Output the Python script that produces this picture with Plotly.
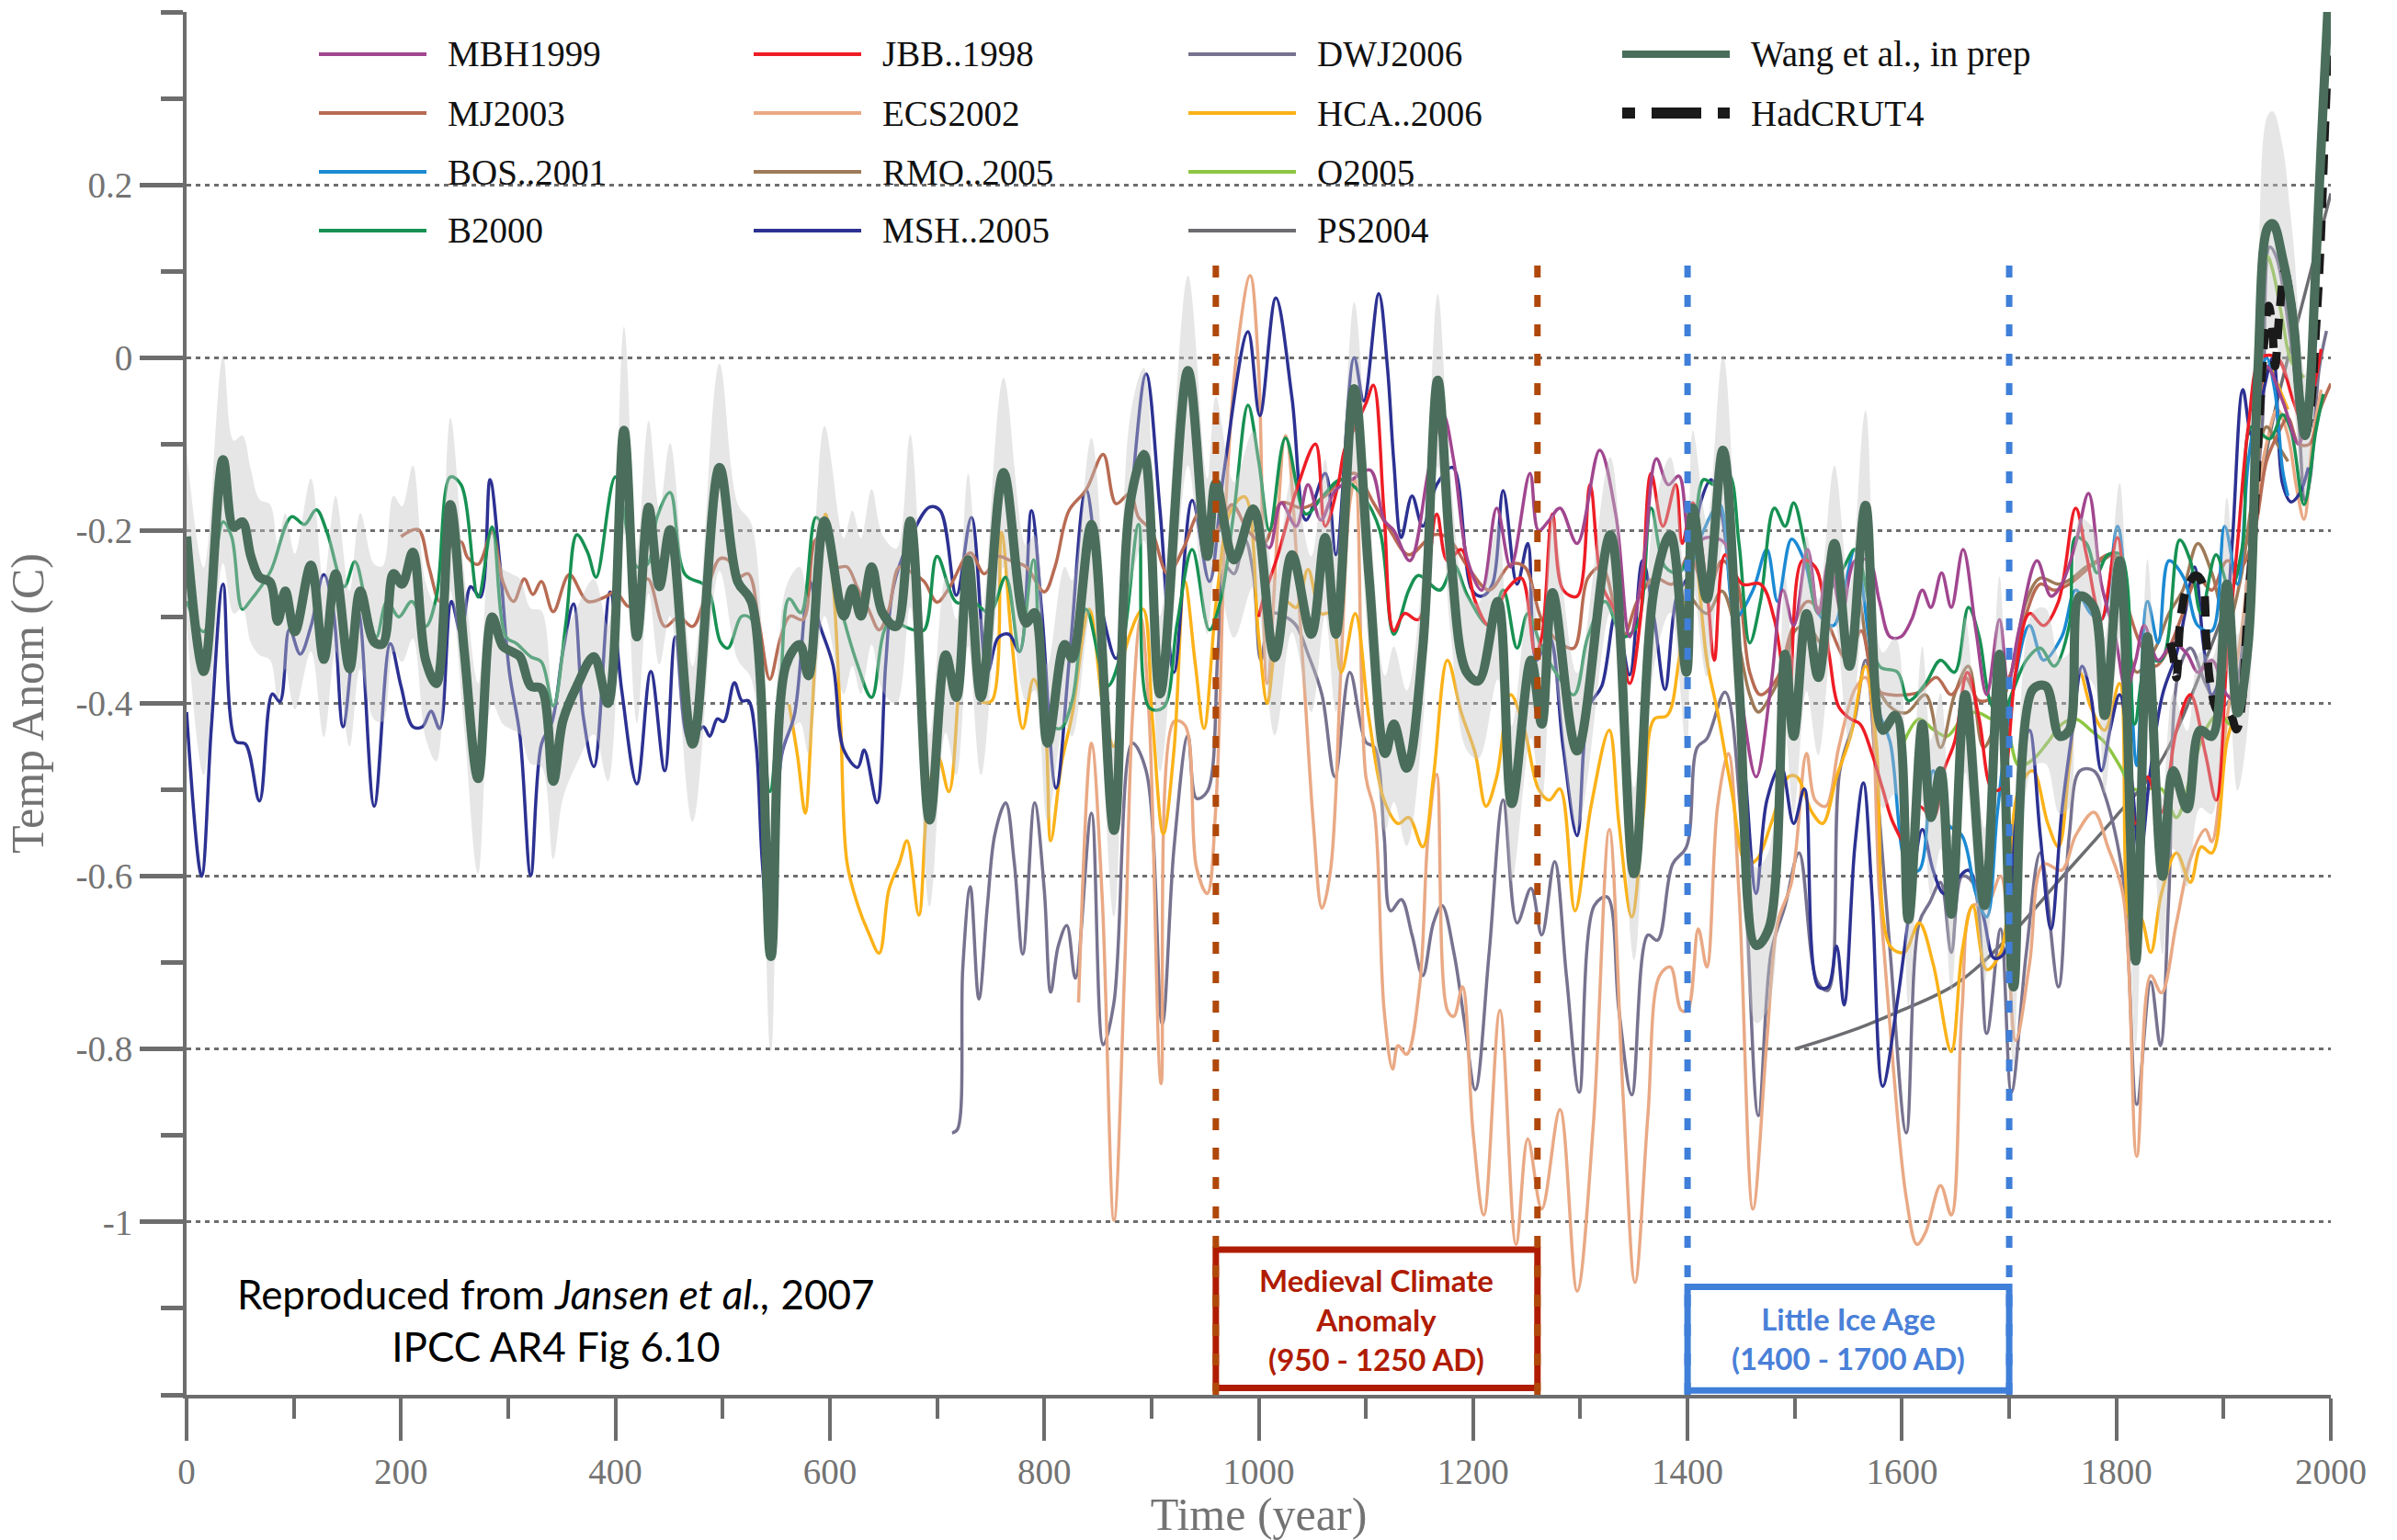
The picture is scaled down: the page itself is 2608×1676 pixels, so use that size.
import plotly.graph_objects as go

# ------------------------------------------------------------------
# Reconstructions of Northern Hemisphere temperature anomaly (C)
# ------------------------------------------------------------------
mbh_years = [1000, 1010, 1021, 1035, 1046, 1058, 1071, 1087, 1104, 1117, 1126, 1141, 1159, 1172, 1182,
             1195, 1208, 1222, 1235, 1253, 1261, 1271, 1281, 1297, 1318, 1333, 1346, 1359, 1371, 1382,
             1392, 1404, 1418, 1435, 1450, 1464, 1478, 1489, 1499, 1512, 1522, 1532, 1544, 1556, 1569,
             1579, 1589, 1599, 1609, 1619, 1627, 1637, 1646, 1657, 1669, 1679, 1691, 1699, 1709, 1726,
             1739, 1749, 1762, 1774, 1786, 1799, 1809, 1818, 1826, 1839, 1853, 1866, 1876, 1889, 1903,
             1913, 1925, 1940, 1955, 1970, 1980]
mbh_vals = [-0.20, -0.22, -0.168, -0.195, -0.147, -0.188, -0.154, -0.141, -0.13, -0.188, -0.20, -0.235, -0.127, -0.066, -0.12,
            -0.235, -0.269, -0.174, -0.242, -0.134, -0.20, -0.188, -0.174, -0.215, -0.107, -0.181, -0.323, -0.235, -0.117, -0.147,
            -0.137, -0.215, -0.208, -0.215, -0.39, -0.485, -0.377, -0.269, -0.31, -0.222, -0.296, -0.235, -0.296, -0.235, -0.235,
            -0.282, -0.323, -0.323, -0.303, -0.269, -0.289, -0.249, -0.289, -0.222, -0.316, -0.39, -0.303, -0.377, -0.316, -0.235,
            -0.276, -0.262, -0.215, -0.157, -0.262, -0.323, -0.384, -0.35, -0.31, -0.35, -0.33, -0.343, -0.364, -0.35, -0.39,
            -0.397, -0.25, -0.01, -0.05, -0.10, -0.05]

mj_years = [200, 216, 226, 236, 246, 256, 262, 272, 285, 295, 305, 315, 323, 331, 342, 357, 374, 390, 400, 413,
            430, 446, 459, 472, 485, 497, 505, 514, 524, 534, 544, 554, 563, 575, 587, 596, 606, 616, 626, 636,
            646, 655, 665, 678, 688, 700, 711, 731, 744, 757, 767, 783, 800, 810, 823, 839, 855, 867, 880, 888,
            900, 915, 930, 945, 960, 975, 990, 1005, 1021, 1041, 1061, 1077, 1090, 1107, 1123, 1140, 1163, 1176, 1195, 1215,
            1235, 1248, 1264, 1281, 1294, 1307, 1320, 1340, 1353, 1369, 1386, 1402, 1418, 1432, 1445, 1458, 1468, 1484, 1497, 1512,
            1526, 1549, 1562, 1576, 1589, 1604, 1616, 1632, 1646, 1659, 1672, 1689, 1702, 1716, 1729, 1742, 1756, 1769, 1782, 1796,
            1809, 1822, 1836, 1849, 1862, 1876, 1889, 1903, 1916, 1929, 1940, 1950, 1960, 1970, 1980, 1990, 2000]
mj_vals = [-0.207, -0.199, -0.242, -0.282, -0.219, -0.213, -0.231, -0.239, -0.202, -0.259, -0.282, -0.256, -0.274, -0.259, -0.294, -0.251, -0.282, -0.277, -0.271, -0.288,
           -0.256, -0.311, -0.30, -0.311, -0.271, -0.233, -0.234, -0.254, -0.25, -0.307, -0.372, -0.324, -0.299, -0.303, -0.21, -0.21, -0.242, -0.242, -0.267, -0.291,
           -0.315, -0.291, -0.242, -0.25, -0.259, -0.283, -0.267, -0.226, -0.25, -0.23, -0.234, -0.242, -0.271, -0.242, -0.177, -0.153, -0.112, -0.169, -0.157, -0.185,
           -0.20, -0.25, -0.22, -0.18, -0.20, -0.17, -0.20, -0.215, -0.168, -0.174, -0.161, -0.141, -0.134, -0.168, -0.201, -0.228, -0.205, -0.208, -0.242, -0.269,
           -0.239, -0.242, -0.303, -0.33, -0.336, -0.255, -0.242, -0.323, -0.282, -0.255, -0.262, -0.228, -0.276, -0.235, -0.255, -0.364, -0.39, -0.37, -0.316, -0.282,
           -0.296, -0.35, -0.316, -0.384, -0.39, -0.39, -0.387, -0.37, -0.39, -0.37, -0.397, -0.39, -0.364, -0.296, -0.262, -0.269, -0.262, -0.249, -0.235, -0.228,
           -0.282, -0.33, -0.357, -0.336, -0.296, -0.255, -0.269, -0.235, -0.242, -0.20, -0.12, -0.09, -0.07, -0.10, -0.10, -0.06, -0.03]

bos_years = [1402, 1415, 1430, 1445, 1461, 1474, 1484, 1497, 1509, 1522, 1536, 1546, 1556, 1569, 1579, 1589,
             1606, 1616, 1629, 1642, 1656, 1669, 1679, 1689, 1702, 1719, 1732, 1749, 1762, 1776, 1786, 1801,
             1812, 1819, 1829, 1839, 1849, 1863, 1876, 1889, 1901, 1913, 1923, 1932, 1940, 1948, 1955, 1960]
bos_vals = [-0.25, -0.20, -0.17, -0.30, -0.269, -0.222, -0.282, -0.21, -0.235, -0.296, -0.31, -0.269, -0.222, -0.323, -0.411, -0.445,
            -0.593, -0.593, -0.478, -0.539, -0.553, -0.62, -0.647, -0.526, -0.397, -0.31, -0.35, -0.323, -0.269, -0.296, -0.303, -0.195,
            -0.35, -0.472, -0.282, -0.33, -0.235, -0.255, -0.31, -0.316, -0.195, -0.262, -0.12, -0.05, 0.0, -0.04, -0.13, -0.16]

b2000_years = [0, 16, 34, 42, 52, 59, 78, 98, 110, 121, 131, 147, 157, 167, 177, 187, 198, 210, 223, 233,
               246, 256, 272, 285, 298, 308, 321, 331, 342, 354, 364, 374, 382, 400, 420, 430, 439, 451, 465, 485,
               498, 505, 518, 527, 537, 544, 554, 562, 573, 587, 596, 606, 626, 639, 655, 678, 688, 700, 718, 734,
               749, 764, 777, 790, 803, 815, 826, 839, 859, 872, 888, 898, 911, 924, 938, 954, 964, 977, 990, 1000,
               1010, 1025, 1044, 1060, 1077, 1097, 1113, 1126, 1140, 1149, 1169, 1182, 1195, 1215, 1228, 1241, 1251, 1264, 1277, 1294,
               1307, 1323, 1340, 1353, 1366, 1379, 1392, 1405, 1415, 1425, 1438, 1448, 1458, 1468, 1481, 1491, 1499, 1509, 1522, 1536,
               1546, 1556, 1569, 1579, 1596, 1606, 1622, 1636, 1649, 1662, 1672, 1682, 1692, 1702, 1716, 1729, 1742, 1756, 1762, 1772,
               1782, 1792, 1804, 1817, 1829, 1842, 1859, 1869, 1879, 1893, 1906, 1918, 1926, 1943, 1955, 1963, 1975, 1986, 1993]
b2000_vals = [-0.282, -0.317, -0.19, -0.207, -0.291, -0.282, -0.248, -0.184, -0.193, -0.176, -0.202, -0.265, -0.236, -0.282, -0.323, -0.282, -0.30, -0.282, -0.311, -0.277,
              -0.138, -0.147, -0.277, -0.196, -0.323, -0.331, -0.346, -0.352, -0.403, -0.305, -0.205, -0.225, -0.254, -0.138, -0.242, -0.239, -0.184, -0.156, -0.251, -0.265,
              -0.329, -0.336, -0.299, -0.303, -0.421, -0.502, -0.38, -0.279, -0.295, -0.185, -0.202, -0.267, -0.356, -0.393, -0.307, -0.315, -0.315, -0.23, -0.283, -0.283,
              -0.295, -0.254, -0.34, -0.234, -0.421, -0.429, -0.397, -0.291, -0.38, -0.34, -0.193, -0.405, -0.405, -0.307, -0.222, -0.315, -0.283, -0.177, -0.055, -0.12,
              -0.20, -0.093, -0.181, -0.16, -0.141, -0.16, -0.20, -0.32, -0.269, -0.252, -0.269, -0.24, -0.276, -0.31, -0.269, -0.336, -0.296, -0.336, -0.364, -0.39,
              -0.323, -0.282, -0.323, -0.31, -0.174, -0.242, -0.249, -0.208, -0.141, -0.147, -0.134, -0.215, -0.33, -0.282, -0.174, -0.195, -0.168, -0.215, -0.296, -0.262,
              -0.242, -0.222, -0.282, -0.357, -0.364, -0.397, -0.377, -0.35, -0.364, -0.289, -0.323, -0.397, -0.418, -0.39, -0.35, -0.336, -0.357, -0.31, -0.208, -0.215,
              -0.249, -0.228, -0.228, -0.424, -0.35, -0.35, -0.211, -0.235, -0.296, -0.228, -0.269, -0.215, -0.08, -0.094, -0.066, -0.085, -0.17, -0.085, -0.042]

jbb_years = [1000, 1005, 1018, 1035, 1053, 1062, 1074, 1080, 1090, 1100, 1107, 1117, 1126, 1136, 1149, 1166, 1176, 1189,
             1202, 1215, 1231, 1245, 1258, 1264, 1274, 1284, 1297, 1309, 1320, 1333, 1346, 1356, 1366, 1377, 1389, 1395,
             1405, 1418, 1425, 1435, 1451, 1468, 1481, 1494, 1507, 1519, 1532, 1541, 1552, 1561, 1572, 1582, 1592, 1606,
             1616, 1629, 1639, 1649, 1661, 1672, 1684, 1692, 1706, 1719, 1732, 1746, 1762, 1772, 1786, 1801, 1818, 1829,
             1842, 1856, 1869, 1883, 1893, 1903, 1913, 1923, 1935, 1950, 1965, 1975, 1985, 1991]
jbb_vals = [-0.30, -0.276, -0.228, -0.154, -0.10, -0.195, -0.147, -0.107, -0.08, -0.053, -0.032, -0.181, -0.316, -0.296, -0.303, -0.181, -0.235, -0.222,
            -0.282, -0.31, -0.269, -0.255, -0.343, -0.323, -0.181, -0.269, -0.276, -0.147, -0.262, -0.296, -0.377, -0.303, -0.134, -0.195, -0.147, -0.215,
            -0.168, -0.269, -0.35, -0.228, -0.262, -0.262, -0.303, -0.397, -0.235, -0.242, -0.343, -0.404, -0.418, -0.424, -0.458, -0.499, -0.539, -0.566,
            -0.519, -0.532, -0.478, -0.445, -0.364, -0.418, -0.499, -0.499, -0.364, -0.296, -0.31, -0.282, -0.174, -0.228, -0.303, -0.208, -0.539, -0.485,
            -0.526, -0.431, -0.39, -0.458, -0.512, -0.35, -0.215, -0.08, 0.0, 0.0, -0.05, -0.08, -0.03, 0.01]

ecs_years = [832, 844, 854, 865, 875, 882, 890, 898, 909, 921, 931, 942, 952, 960, 970, 980, 992, 1000, 1008, 1025,
             1041, 1051, 1059, 1067, 1077, 1085, 1090, 1100, 1108, 1117, 1125, 1130, 1138, 1150, 1158, 1166, 1176, 1182, 1190, 1200,
             1210, 1225, 1240, 1251, 1264, 1281, 1297, 1312, 1327, 1340, 1351, 1363, 1374, 1384, 1394, 1400, 1410, 1418, 1428, 1438,
             1448, 1461, 1474, 1484, 1497, 1511, 1519, 1529, 1541, 1556, 1566, 1579, 1592, 1604, 1614, 1622, 1636, 1646, 1656, 1666,
             1679, 1692, 1706, 1719, 1732, 1749, 1762, 1779, 1792, 1806, 1819, 1832, 1842, 1856, 1869, 1883, 1889, 1903, 1916, 1929,
             1940, 1950, 1960, 1968, 1975, 1983, 1991]
ecs_vals = [-0.746, -0.446, -0.624, -0.998, -0.706, -0.421, -0.30, -0.42, -0.84, -0.421, -0.425, -0.59, -0.62, -0.52, -0.153, 0.01, 0.095, -0.015, -0.377, -0.09,
            -0.35, -0.539, -0.637, -0.593, -0.35, -0.168, -0.141, -0.485, -0.526, -0.755, -0.823, -0.796, -0.806, -0.728, -0.553, -0.482, -0.755, -0.762, -0.728, -0.897,
            -0.992, -0.755, -1.026, -0.904, -0.985, -0.87, -1.08, -0.89, -0.546, -0.857, -1.07, -0.877, -0.715, -0.705, -0.755, -0.755, -0.661, -0.705, -0.519, -0.458,
            -0.62, -0.985, -0.79, -0.654, -0.607, -0.458, -0.512, -0.519, -0.451, -0.384, -0.37, -0.62, -0.823, -0.972, -1.026, -1.012, -0.958, -0.992, -0.755, -0.634,
            -0.634, -0.60, -0.79, -0.701, -0.586, -0.593, -0.553, -0.526, -0.566, -0.62, -0.924, -0.715, -0.735, -0.654, -0.58, -0.546, -0.56, -0.418, -0.323, -0.181,
            -0.10, -0.06, -0.09, -0.15, -0.187, -0.094, -0.037]

rmo_years = [1400, 1418, 1432, 1445, 1458, 1466, 1478, 1491, 1500, 1512, 1525, 1536, 1552, 1559, 1572, 1589, 1604, 1622,
             1636, 1649, 1662, 1676, 1689, 1702, 1716, 1729, 1746, 1759, 1772, 1786, 1799, 1809, 1819, 1836, 1849, 1862,
             1876, 1889, 1903, 1916, 1926, 1940, 1950, 1960]
rmo_vals = [-0.27, -0.296, -0.27, -0.316, -0.39, -0.41, -0.39, -0.357, -0.316, -0.31, -0.33, -0.262, -0.33, -0.276, -0.364, -0.404, -0.411, -0.39,
            -0.451, -0.39, -0.357, -0.451, -0.418, -0.364, -0.282, -0.255, -0.262, -0.255, -0.242, -0.235, -0.228, -0.316, -0.364, -0.337, -0.296, -0.269,
            -0.215, -0.249, -0.31, -0.255, -0.17, -0.08, -0.10, -0.12]

msh_years = [0, 14, 23, 34, 46, 55, 68, 80, 87, 96, 106, 116, 128, 137, 146, 160, 175, 190, 200, 211,
             220, 228, 236, 247, 256, 265, 274, 283, 292, 301, 311, 321, 331, 341, 351, 361, 370, 380, 395, 406,
             420, 433, 446, 456, 469, 482, 488, 495, 501, 511, 518, 524, 531, 537, 545, 555, 567, 581, 590, 603,
             613, 626, 632, 644, 652, 659, 672, 693, 703, 718, 732, 747, 757, 767, 777, 788, 798, 811, 824, 839,
             855, 867, 880, 895, 908, 921, 938, 954, 967, 990, 1001, 1016, 1031, 1044, 1062, 1072, 1089, 1098, 1112, 1120,
             1126, 1133, 1143, 1153, 1166, 1181, 1199, 1208, 1218, 1228, 1241, 1251, 1259, 1271, 1284, 1297, 1308, 1320, 1333, 1346,
             1358, 1369, 1379, 1390, 1402, 1412, 1422, 1432, 1445, 1454, 1464, 1474, 1487, 1499, 1509, 1522, 1531, 1539, 1546, 1556,
             1564, 1572, 1582, 1596, 1607, 1619, 1629, 1639, 1649, 1662, 1676, 1686, 1696, 1706, 1719, 1729, 1739, 1749, 1759, 1768,
             1776, 1786, 1794, 1803, 1814, 1822, 1831, 1843, 1856, 1864, 1873, 1881, 1889, 1898, 1908, 1918, 1926, 1935, 1946, 1955,
             1963, 1971, 1979]
msh_vals = [-0.41, -0.60, -0.43, -0.262, -0.444, -0.447, -0.513, -0.389, -0.398, -0.314, -0.343, -0.311, -0.251, -0.294, -0.427, -0.294, -0.519, -0.331, -0.38, -0.427,
            -0.427, -0.409, -0.429, -0.282, -0.32, -0.265, -0.277, -0.141, -0.236, -0.363, -0.438, -0.599, -0.447, -0.421, -0.34, -0.285, -0.415, -0.473, -0.271, -0.386,
            -0.493, -0.363, -0.478, -0.323, -0.444, -0.427, -0.438, -0.418, -0.421, -0.376, -0.397, -0.397, -0.445, -0.584, -0.69, -0.46, -0.413, -0.259, -0.307, -0.356,
            -0.454, -0.474, -0.454, -0.515, -0.356, -0.267, -0.218, -0.173, -0.177, -0.275, -0.185, -0.364, -0.324, -0.32, -0.34, -0.177, -0.299, -0.498, -0.34, -0.153,
            -0.299, -0.348, -0.177, -0.019, -0.177, -0.364, -0.165, -0.259, -0.137, 0.03, -0.067, 0.069, -0.046, -0.188, -0.134, -0.228, 0.0, -0.05, 0.074, -0.01,
            -0.12, -0.208, -0.16, -0.195, -0.147, -0.127, -0.269, -0.276, -0.262, -0.154, -0.262, -0.215, -0.35, -0.323, -0.451, -0.553, -0.404, -0.38, -0.296, -0.367,
            -0.235, -0.303, -0.384, -0.276, -0.249, -0.168, -0.141, -0.181, -0.35, -0.485, -0.62, -0.512, -0.472, -0.539, -0.499, -0.728, -0.728, -0.681, -0.749, -0.566,
            -0.492, -0.62, -0.843, -0.742, -0.64, -0.546, -0.593, -0.62, -0.607, -0.593, -0.647, -0.695, -0.688, -0.539, -0.431, -0.553, -0.661, -0.526, -0.431, -0.357,
            -0.39, -0.478, -0.431, -0.39, -0.485, -0.58, -0.485, -0.39, -0.343, -0.296, -0.242, -0.33, -0.39, -0.364, -0.215, -0.037, -0.09, -0.05, 0.0, -0.146,
            -0.167, -0.157, -0.127]

dwj_years = [714, 719, 724, 731, 739, 747, 754, 764, 772, 780, 791, 800, 806, 813, 821, 829, 844, 855, 865, 882,
             895, 910, 921, 934, 942, 952, 962, 969, 977, 987, 995, 1002, 1012, 1025, 1035, 1046, 1059, 1071, 1085, 1100,
             1108, 1117, 1123, 1133, 1143, 1153, 1163, 1171, 1182, 1192, 1202, 1215, 1228, 1241, 1254, 1264, 1276, 1287, 1299, 1313,
             1325, 1336, 1348, 1363, 1372, 1386, 1399, 1409, 1418, 1435, 1451, 1466, 1478, 1491, 1504, 1521, 1531, 1542, 1556, 1566,
             1576, 1589, 1604, 1616, 1626, 1636, 1646, 1656, 1666, 1679, 1692, 1702, 1716, 1729, 1746, 1756, 1766, 1779, 1789, 1806,
             1819, 1832, 1841, 1849, 1858, 1869, 1883, 1896, 1909, 1923, 1936, 1943, 1949, 1961, 1969, 1976, 1981, 1989, 1996]
dwj_vals = [-0.897, -0.893, -0.706, -0.612, -0.742, -0.633, -0.551, -0.515, -0.584, -0.69, -0.515, -0.616, -0.734, -0.681, -0.657, -0.718, -0.527, -0.795, -0.746, -0.446,
            -0.478, -0.771, -0.567, -0.437, -0.51, -0.502, -0.34, -0.242, -0.25, -0.21, -0.25, -0.35, -0.296, -0.30, -0.31, -0.343, -0.39, -0.485, -0.364, -0.445,
            -0.451, -0.553, -0.64, -0.627, -0.668, -0.715, -0.654, -0.634, -0.688, -0.769, -0.847, -0.688, -0.512, -0.654, -0.614, -0.668, -0.583, -0.715, -0.85, -0.634,
            -0.624, -0.755, -0.853, -0.668, -0.674, -0.586, -0.566, -0.451, -0.441, -0.387, -0.553, -0.877, -0.688, -0.634, -0.573, -0.722, -0.732, -0.478, -0.418, -0.35,
            -0.485, -0.688, -0.897, -0.654, -0.63, -0.607, -0.688, -0.60, -0.607, -0.782, -0.661, -0.85, -0.688, -0.573, -0.728, -0.553, -0.478, -0.478, -0.505, -0.60,
            -0.864, -0.722, -0.796, -0.62, -0.364, -0.336, -0.377, -0.404, -0.39, -0.242, -0.08, 0.128, 0.117, 0.033, -0.051, -0.165, -0.137, -0.014, 0.031]

hca_years = [562, 570, 577, 583, 590, 596, 603, 610, 616, 626, 636, 646, 655, 665, 672, 683, 692, 701, 711, 721,
             731, 741, 751, 760, 770, 780, 790, 800, 806, 816, 826, 842, 856, 865, 875, 892, 901, 911, 921, 931,
             941, 949, 961, 974, 987, 1000, 1008, 1015, 1025, 1035, 1046, 1058, 1067, 1077, 1090, 1103, 1117, 1130, 1140, 1153,
             1163, 1176, 1189, 1202, 1212, 1222, 1235, 1248, 1261, 1271, 1281, 1295, 1310, 1327, 1336, 1348, 1359, 1369, 1381, 1392,
             1405, 1418, 1428, 1441, 1455, 1465, 1478, 1494, 1502, 1516, 1526, 1539, 1552, 1566, 1576, 1589, 1602, 1616, 1629, 1646,
             1656, 1666, 1679, 1692, 1709, 1722, 1736, 1746, 1756, 1766, 1776, 1789, 1803, 1814, 1822, 1832, 1842, 1856, 1869, 1879,
             1889, 1903, 1916, 1926, 1935, 1943, 1950, 1960]
hca_vals = [-0.401, -0.462, -0.527, -0.421, -0.259, -0.181, -0.259, -0.421, -0.584, -0.633, -0.665, -0.689, -0.616, -0.584, -0.559, -0.645, -0.502, -0.462, -0.502, -0.372,
            -0.267, -0.397, -0.397, -0.202, -0.332, -0.429, -0.372, -0.413, -0.559, -0.47, -0.413, -0.291, -0.413, -0.45, -0.34, -0.291, -0.421, -0.551, -0.454, -0.259,
            -0.356, -0.429, -0.275, -0.177, -0.161, -0.324, -0.40, -0.336, -0.282, -0.289, -0.245, -0.296, -0.296, -0.364, -0.296, -0.418, -0.512, -0.539, -0.532, -0.566,
            -0.485, -0.35, -0.411, -0.458, -0.519, -0.485, -0.39, -0.431, -0.499, -0.512, -0.499, -0.64, -0.519, -0.431, -0.539, -0.647, -0.526, -0.418, -0.414, -0.35,
            -0.215, -0.35, -0.41, -0.50, -0.586, -0.58, -0.539, -0.485, -0.485, -0.526, -0.539, -0.485, -0.438, -0.357, -0.445, -0.681, -0.688, -0.654, -0.701, -0.803,
            -0.688, -0.634, -0.708, -0.688, -0.499, -0.478, -0.539, -0.566, -0.472, -0.364, -0.404, -0.431, -0.377, -0.654, -0.647, -0.688, -0.62, -0.573, -0.607, -0.566,
            -0.573, -0.445, -0.384, -0.215, -0.05, -0.01, -0.03, -0.06]

o2005_years = [1600, 1616, 1629, 1642, 1656, 1669, 1683, 1696, 1709, 1722, 1736, 1749, 1762, 1776, 1789, 1803,
               1816, 1829, 1842, 1856, 1869, 1883, 1896, 1906, 1919, 1930, 1941, 1946, 1955, 1963, 1975]
o2005_vals = [-0.45, -0.418, -0.43, -0.438, -0.418, -0.41, -0.418, -0.424, -0.472, -0.465, -0.445, -0.424, -0.418, -0.431, -0.445, -0.472,
              -0.499, -0.499, -0.499, -0.532, -0.485, -0.431, -0.411, -0.424, -0.35, -0.15, 0.117, 0.10, 0.043, -0.004, -0.023]

ps_years = [1500, 1550, 1600, 1650, 1700, 1750, 1800, 1840, 1880, 1920, 1950, 1975, 2000]
ps_vals = [-0.80, -0.78, -0.755, -0.725, -0.67, -0.60, -0.53, -0.47, -0.36, -0.22, -0.05, 0.07, 0.19]

# Wang et al. composite with its uncertainty half-width
wang_years = [0, 16, 34, 44, 52, 60, 68, 78, 85, 92,
              101, 116, 128, 139, 152, 162, 175, 183, 193, 201,
              211, 223, 233, 246, 259, 272, 285, 295, 303, 311,
              321, 331, 342, 351, 364, 380, 393, 408, 420, 431,
              441, 451, 472, 497, 514, 527, 545, 559, 572, 580,
              595, 613, 621, 629, 639, 649, 662, 675, 693, 708,
              718, 729, 741, 762, 783, 791, 803, 819, 826, 844,
              865, 880, 893, 908, 934, 952, 960, 977, 995, 1015,
              1031, 1049, 1062, 1072, 1089, 1103, 1118, 1126, 1138, 1153,
              1167, 1179, 1194, 1205, 1223, 1236, 1254, 1264, 1274, 1297,
              1328, 1350, 1369, 1384, 1399, 1405, 1418, 1433, 1448, 1464,
              1476, 1491, 1499, 1511, 1522, 1537, 1551, 1566, 1582, 1594,
              1606, 1619, 1627, 1636, 1646, 1659, 1677, 1691, 1704, 1722,
              1734, 1747, 1756, 1766, 1779, 1789, 1803, 1818, 1829, 1843,
              1853, 1866, 1878, 1889, 1903, 1913, 1923, 1932, 1941, 1946,
              1955, 1962, 1966, 1971, 1976, 1980, 1985, 1991, 1997, 2000]
wang_vals = [-0.207, -0.363, -0.118, -0.196, -0.19, -0.23, -0.254, -0.26, -0.305, -0.27,
             -0.317, -0.24, -0.349, -0.25, -0.36, -0.27, -0.329, -0.331, -0.25, -0.262,
             -0.225, -0.35, -0.377, -0.17, -0.34, -0.487, -0.30, -0.334, -0.34, -0.346,
             -0.38, -0.383, -0.49, -0.42, -0.38, -0.346, -0.40, -0.084, -0.323, -0.173,
             -0.265, -0.199, -0.447, -0.127, -0.259, -0.283, -0.693, -0.356, -0.332, -0.368,
             -0.189, -0.299, -0.267, -0.299, -0.242, -0.295, -0.311, -0.189, -0.535, -0.344,
             -0.393, -0.234, -0.393, -0.133, -0.307, -0.295, -0.446, -0.332, -0.348, -0.193,
             -0.547, -0.169, -0.112, -0.389, -0.015, -0.23, -0.145, -0.234, -0.175, -0.347,
             -0.228, -0.32, -0.208, -0.32, -0.036, -0.255, -0.458, -0.424, -0.475, -0.336,
             -0.026, -0.228, -0.364, -0.374, -0.282, -0.516, -0.35, -0.424, -0.272, -0.455,
             -0.205, -0.597, -0.266, -0.205, -0.364, -0.174, -0.279, -0.107, -0.377, -0.68,
             -0.66, -0.343, -0.438, -0.296, -0.37, -0.215, -0.357, -0.171, -0.431, -0.414,
             -0.65, -0.424, -0.532, -0.478, -0.644, -0.39, -0.634, -0.343, -0.728, -0.384,
             -0.38, -0.438, -0.431, -0.276, -0.289, -0.414, -0.235, -0.698, -0.323, -0.60,
             -0.478, -0.522, -0.431, -0.438, -0.262, -0.411, -0.33, -0.014, 0.15, 0.155,
             0.115, 0.07, 0.03, -0.05, -0.09, -0.05, 0.077, 0.245, 0.396, 0.47]
wang_spread = [0.10, 0.12, 0.12, 0.10, 0.10, 0.10, 0.09, 0.09, 0.09, 0.09,
               0.09, 0.10, 0.09, 0.09, 0.09, 0.09, 0.09, 0.09, 0.09, 0.09,
               0.10, 0.09, 0.09, 0.10, 0.09, 0.11, 0.10, 0.09, 0.09, 0.09,
               0.09, 0.09, 0.09, 0.09, 0.09, 0.09, 0.09, 0.12, 0.10, 0.10,
               0.09, 0.10, 0.09, 0.12, 0.09, 0.09, 0.11, 0.09, 0.09, 0.09,
               0.11, 0.09, 0.09, 0.09, 0.09, 0.09, 0.09, 0.10, 0.10, 0.09,
               0.09, 0.10, 0.09, 0.11, 0.09, 0.09, 0.09, 0.09, 0.09, 0.10,
               0.10, 0.10, 0.10, 0.09, 0.11, 0.09, 0.10, 0.09, 0.09, 0.09,
               0.09, 0.09, 0.09, 0.09, 0.10, 0.09, 0.09, 0.09, 0.09, 0.09,
               0.10, 0.09, 0.09, 0.09, 0.09, 0.09, 0.09, 0.09, 0.09, 0.09,
               0.09, 0.10, 0.09, 0.09, 0.09, 0.09, 0.09, 0.11, 0.09, 0.09,
               0.09, 0.09, 0.09, 0.09, 0.09, 0.09, 0.09, 0.11, 0.09, 0.09,
               0.10, 0.09, 0.09, 0.09, 0.09, 0.09, 0.09, 0.09, 0.09, 0.09,
               0.09, 0.09, 0.09, 0.09, 0.09, 0.09, 0.09, 0.10, 0.09, 0.09,
               0.09, 0.09, 0.09, 0.09, 0.10, 0.09, 0.09, 0.10, 0.13, 0.13,
               0.13, 0.10, 0.09, 0.08, 0.07, 0.07, 0.06, 0.05, 0.04, 0.04]
assert len(wang_years) == len(wang_vals) == len(wang_spread)

# Instrumental record; from the 1950s it runs along the composite curve
hadcrut_years = [1850, 1853, 1856, 1860, 1866, 1874, 1880, 1884, 1888, 1895, 1905, 1912, 1917, 1922, 1928,
                 1933, 1938, 1942, 1945, 1948, 1952, 1957, 1962, 1966, 1971, 1976, 1981, 1986, 1990, 1995, 2000]
hadcrut_vals = [-0.33, -0.345, -0.37, -0.30, -0.266, -0.252, -0.26, -0.33, -0.38, -0.41, -0.41, -0.43, -0.40, -0.30, -0.20,
                -0.08, 0.02, 0.06, 0.04, -0.01, 0.05, 0.10, 0.07, 0.03, -0.05, -0.09, -0.06, 0.03, 0.12, 0.28, 0.43]

# Periods highlighted on the time axis
mca_period = (960, 1260)
lia_period = (1400, 1700)

y_major = [-1, -0.8, -0.6, -0.4, -0.2, 0, 0.2]
y_major_text = ["-1", "-0.8", "-0.6", "-0.4", "-0.2", "0", "0.2"]
y_minor = [-1.2, -1.1, -0.9, -0.7, -0.5, -0.3, -0.1, 0.1, 0.3, 0.4]
x_major = list(range(0, 2001, 200))
x_minor = list(range(100, 2000, 200))

# ------------------------------------------------------------------
W, H = 2608, 1676
ML, MR, MT, MB = 203, 72, 13, 158
PW, PH = W - ML - MR, H - MT - MB
AX = "#6d6d6d"
SERIF = "Liberation Serif"
SANS = "Lato"


def paper_x(px):
    return (px - ML) / PW


def paper_y(py):
    return (H - MB - py) / PH


thin_series = [
    ("PS2004", ps_years, ps_vals, "#6c6d70"),
    ("DWJ2006", dwj_years, dwj_vals, "#77728f"),
    ("ECS2002", ecs_years, ecs_vals, "#e9a985"),
    ("HCA..2006", hca_years, hca_vals, "#fbb219"),
    ("O2005", o2005_years, o2005_vals, "#8dc641"),
    ("MSH..2005", msh_years, msh_vals, "#2c3192"),
    ("RMO..2005", rmo_years, rmo_vals, "#9e7a58"),
    ("MJ2003", mj_years, mj_vals, "#b86b53"),
    ("BOS..2001", bos_years, bos_vals, "#1b8ad3"),
    ("B2000", b2000_years, b2000_vals, "#179153"),
    ("JBB..1998", jbb_years, jbb_vals, "#ee1d25"),
    ("MBH1999", mbh_years, mbh_vals, "#a1468f"),
]
colors = {name: col for name, _, _, col in thin_series}
WANG_COLOR = "#4a6e5b"
HAD_COLOR = "#1a1a1a"

fig = go.Figure()
for name, xs, ys, col in thin_series:
    fig.add_trace(go.Scatter(x=xs, y=ys, mode="lines", name=name,
                             line=dict(color=col, width=3.5, shape="spline", smoothing=1.0),
                             showlegend=False, hoverinfo="skip"))

band_lo = [v - s for v, s in zip(wang_vals, wang_spread)]
band_hi = [v + s for v, s in zip(wang_vals, wang_spread)]
fig.add_trace(go.Scatter(x=wang_years, y=band_lo, mode="lines",
                         line=dict(width=0, shape="spline"), showlegend=False, hoverinfo="skip"))
fig.add_trace(go.Scatter(x=wang_years, y=band_hi, mode="lines", fill="tonexty",
                         fillcolor="rgba(195,195,195,0.42)",
                         line=dict(width=0, shape="spline"), showlegend=False, hoverinfo="skip"))
fig.add_trace(go.Scatter(x=hadcrut_years, y=hadcrut_vals, mode="lines", name="HadCRUT4",
                         line=dict(color=HAD_COLOR, width=9, dash="22px,14px", shape="spline"),
                         showlegend=False, hoverinfo="skip"))
fig.add_trace(go.Scatter(x=wang_years, y=wang_vals, mode="lines", name="Wang et al., in prep",
                         line=dict(color=WANG_COLOR, width=10, shape="spline", smoothing=1.0),
                         showlegend=False, hoverinfo="skip"))

shapes = []
annotations = []

# period boxes and their boundary lines
MCA_RED = "#b01c02"
MCA_LINE = "#b0480a"
LIA_BLUE = "#3f7fd9"
shapes.append(dict(type="rect", xref="x", yref="y", x0=mca_period[0], x1=mca_period[1],
                   y0=-1.192, y1=-1.032, line=dict(color=MCA_RED, width=7),
                   fillcolor="white", layer="above"))
shapes.append(dict(type="rect", xref="x", yref="y", x0=lia_period[0], x1=lia_period[1],
                   y0=-1.195, y1=-1.075, line=dict(color=LIA_BLUE, width=7),
                   fillcolor="white", layer="above"))
for xv in mca_period:
    shapes.append(dict(type="line", xref="x", yref="y", x0=xv, x1=xv, y0=-1.2, y1=0.1125,
                       line=dict(color=MCA_LINE, width=7, dash="13px,19px"), layer="above"))
for xv in lia_period:
    shapes.append(dict(type="line", xref="x", yref="y", x0=xv, x1=xv, y0=-1.2, y1=0.1125,
                       line=dict(color=LIA_BLUE, width=7, dash="13px,19px"), layer="above"))

annotations.append(dict(x=sum(mca_period) / 2, y=-1.113, xref="x", yref="y",
                        text="Medieval Climate<br>Anomaly<br>(950 - 1250 AD)",
                        showarrow=False, align="center",
                        font=dict(family=SANS, size=33, color=MCA_RED, weight="bold")))
annotations.append(dict(x=sum(lia_period) / 2, y=-1.135, xref="x", yref="y",
                        text="Little Ice Age<br>(1400 - 1700 AD)",
                        showarrow=False, align="center",
                        font=dict(family=SANS, size=33, color="#4a80d8", weight="bold")))
annotations.append(dict(x=345, y=-1.113, xref="x", yref="y",
                        text="Reproduced from <i>Jansen et al.,</i> 2007<br>IPCC AR4 Fig 6.10",
                        showarrow=False, align="center",
                        font=dict(family=SANS, size=44, color="black")))

# legend drawn as four columns
legend_cols = [
    [("MBH1999", colors["MBH1999"], 4, "solid"), ("MJ2003", colors["MJ2003"], 4, "solid"),
     ("BOS..2001", colors["BOS..2001"], 4, "solid"), ("B2000", colors["B2000"], 4, "solid")],
    [("JBB..1998", colors["JBB..1998"], 4, "solid"), ("ECS2002", colors["ECS2002"], 4, "solid"),
     ("RMO..2005", colors["RMO..2005"], 4, "solid"), ("MSH..2005", colors["MSH..2005"], 4, "solid")],
    [("DWJ2006", colors["DWJ2006"], 4, "solid"), ("HCA..2006", colors["HCA..2006"], 4, "solid"),
     ("O2005", colors["O2005"], 4, "solid"), ("PS2004", colors["PS2004"], 4, "solid")],
    [("Wang et al., in prep", WANG_COLOR, 8, "solid"), ("HadCRUT4", HAD_COLOR, 12, "14px,18px,54px,18px")],
]
col_px = [347, 820, 1293, 1765]
row_px = [59, 123, 187, 251]
for ci, col in enumerate(legend_cols):
    for ri, (label, color, lw, dash) in enumerate(col):
        x0 = col_px[ci]
        yy = paper_y(row_px[ri])
        shapes.append(dict(type="line", xref="paper", yref="paper",
                           x0=paper_x(x0), x1=paper_x(x0 + 117), y0=yy, y1=yy,
                           line=dict(color=color, width=lw, dash=dash), layer="above"))
        annotations.append(dict(x=paper_x(x0 + 138), y=yy, xref="paper", yref="paper",
                                text=label, showarrow=False, xanchor="left", yanchor="middle",
                                font=dict(family=SERIF, size=39, color="#111111")))

fig.update_layout(
    width=W, height=H,
    margin=dict(l=ML, r=MR, t=MT, b=MB, pad=0),
    paper_bgcolor="white", plot_bgcolor="white",
    font=dict(family=SERIF, color="#737373"),
    shapes=shapes, annotations=annotations,
    showlegend=False,
    xaxis=dict(
        range=[0, 2000], showline=True, linecolor=AX, linewidth=4,
        ticks="outside", tickmode="array", tickvals=x_major, ticklen=46, tickwidth=4, tickcolor=AX,
        minor=dict(tickmode="array", tickvals=x_minor, ticks="outside", ticklen=22, tickwidth=4, tickcolor=AX),
        showgrid=False, zeroline=False,
        tickfont=dict(family=SERIF, size=39, color="#737373"),
        title=dict(text="Time (year)", font=dict(family=SERIF, size=50, color="#737373"), standoff=6),
    ),
    yaxis=dict(
        range=[-1.2, 0.4], showline=True, linecolor=AX, linewidth=4,
        ticks="outside", tickmode="array", tickvals=y_major, ticktext=y_major_text,
        ticklen=47, tickwidth=5, tickcolor=AX,
        minor=dict(tickmode="array", tickvals=y_minor, ticks="outside", ticklen=24, tickwidth=5, tickcolor=AX),
        showgrid=True, gridcolor=AX, gridwidth=2.5, griddash="5px,5px",
        zeroline=False,
        tickfont=dict(family=SERIF, size=39, color="#737373"),
        title=dict(text="Temp Anom (C)", font=dict(family=SERIF, size=50, color="#737373"), standoff=20),
    ),
)

fig.write_html("out.html")
